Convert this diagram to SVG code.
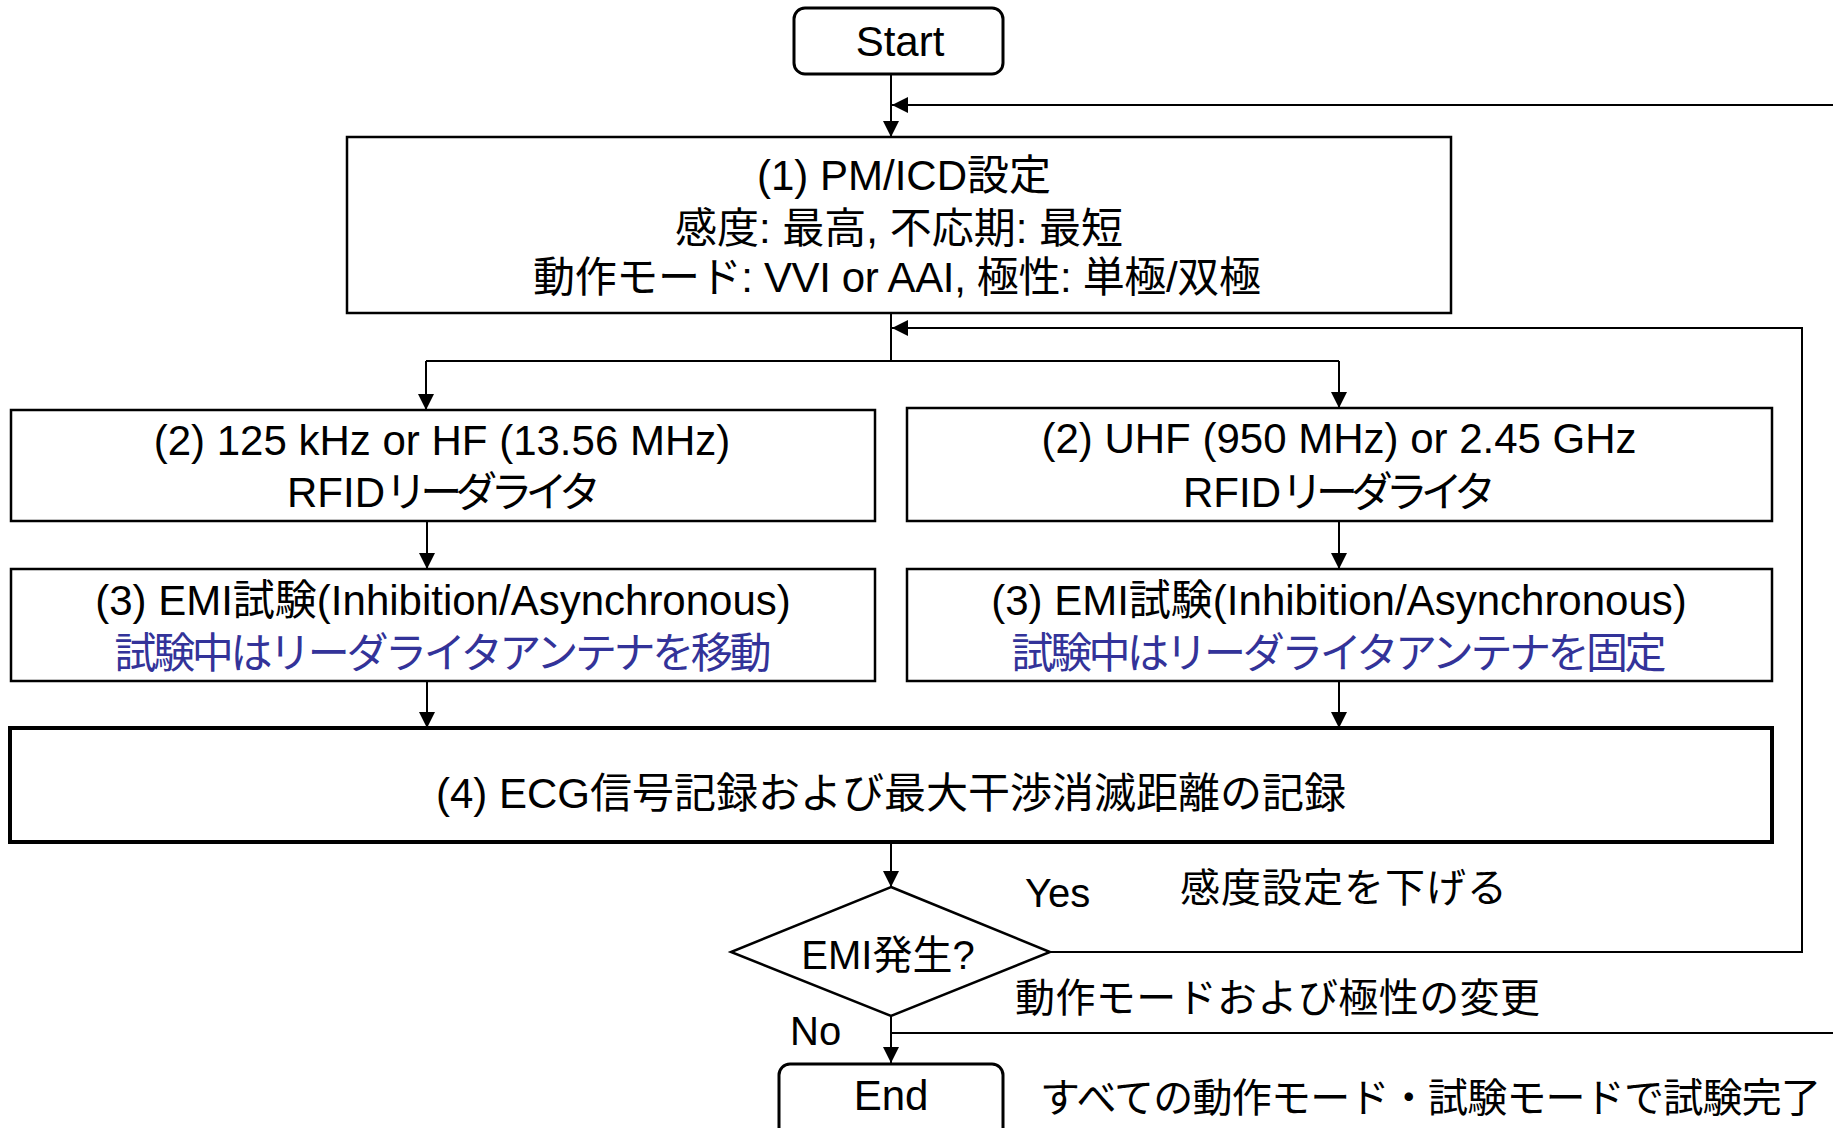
<svg xmlns="http://www.w3.org/2000/svg" width="1833" height="1128" viewBox="0 0 1833 1128">
<defs>
<style>
text{font-family:"Liberation Sans","Noto Sans CJK JP",sans-serif;fill:#000;}
.t42{font-size:42px;text-anchor:middle;}
.l42{font-size:42px;}
.t40{font-size:40px;}
.c{text-anchor:middle;}
.blue{fill:#333399;}
.box{fill:#fff;stroke:#000;stroke-width:2.5;}
.term{fill:#fff;stroke:#000;stroke-width:3;}
.thick{fill:#fff;stroke:#000;stroke-width:4;}
.ln{fill:none;stroke:#000;stroke-width:2;}
</style>
<marker id="ah" viewBox="0 0 16 16" refX="16" refY="8" markerWidth="16" markerHeight="16" markerUnits="userSpaceOnUse" orient="auto">
<path d="M0,0 L16,8 L0,16 Z" fill="#000"/>
</marker>
</defs>
<rect width="1833" height="1128" fill="#fff"/>
<g id="connectors">
<path class="ln" d="M891,74 V137" marker-end="url(#ah)"/>
<path class="ln" d="M1833,105 H892" marker-end="url(#ah)"/>
<path class="ln" d="M891,313 V361"/>
<path class="ln" d="M426,361 H1339"/>
<path class="ln" d="M426,361 V410" marker-end="url(#ah)"/>
<path class="ln" d="M1339,361 V408" marker-end="url(#ah)"/>
<path class="ln" d="M1050,952 H1802 V328 H892" marker-end="url(#ah)"/>
<path class="ln" d="M427,521 V569" marker-end="url(#ah)"/>
<path class="ln" d="M1339,521 V569" marker-end="url(#ah)"/>
<path class="ln" d="M427,681 V728" marker-end="url(#ah)"/>
<path class="ln" d="M1339,681 V728" marker-end="url(#ah)"/>
<path class="ln" d="M891,842 V887" marker-end="url(#ah)"/>
<path class="ln" d="M891,1016 V1063" marker-end="url(#ah)"/>
<path class="ln" d="M891,1033 H1833"/>
</g>
<g id="start">
<rect class="term" x="794" y="8" width="209" height="66" rx="11"/>
<text class="t42" x="900" y="56" font-size="41">Start</text>
</g>
<g id="step1">
<rect class="box" x="347" y="137" width="1104" height="176"/>
<text class="t42" x="904" y="190">(1) PM/ICD設定</text>
<text class="t42" x="899" y="243">感度: 最高, 不応期: 最短</text>
<text class="t42" x="897" y="292" textLength="728">動作モード: VVI or AAI, 極性: 単極/双極</text>
</g>
<g id="step2-left">
<rect class="box" x="11" y="410" width="864" height="111"/>
<text class="t42" x="442" y="455">(2) 125 kHz or HF (13.56 MHz)</text>
<text class="l42" x="287" y="507">RFID<tspan textLength="216">リーダライタ</tspan></text>
</g>
<g id="step2-right">
<rect class="box" x="907" y="408" width="865" height="113"/>
<text class="t42" x="1339" y="453">(2) UHF (950 MHz) or 2.45 GHz</text>
<text class="l42" x="1183" y="507">RFID<tspan textLength="215">リーダライタ</tspan></text>
</g>
<g id="step3-left">
<rect class="box" x="11" y="569" width="864" height="112"/>
<text class="t42" x="443" y="615">(3) EMI試験(Inhibition/Asynchronous)</text>
<text class="t42 blue" x="443" y="668" textLength="657">試験中はリーダライタアンテナを移動</text>
</g>
<g id="step3-right">
<rect class="box" x="907" y="569" width="865" height="112"/>
<text class="t42" x="1339" y="615">(3) EMI試験(Inhibition/Asynchronous)</text>
<text class="t42 blue" x="1339" y="668" textLength="655">試験中はリーダライタアンテナを固定</text>
</g>
<g id="step4">
<rect class="thick" x="10" y="728" width="1762" height="114"/>
<text class="t42" x="891" y="808">(4) ECG信号記録および最大干渉消滅距離の記録</text>
</g>
<g id="decision">
<path class="box" stroke-width="2" d="M891,887 L1050,952 L891,1016 L731,952 Z"/>
<text class="t40 c" x="888" y="969">EMI発生?</text>
</g>
<g id="end">
<rect class="term" x="779" y="1064" width="224" height="90" rx="11"/>
<text class="t42" x="891" y="1110" font-size="41">End</text>
</g>
<g id="labels">
<text class="t40" x="1025" y="907">Yes</text>
<text class="t40" x="1180" y="902" textLength="327">感度設定を下げる</text>
<text class="t40" x="1015" y="1012" textLength="525">動作モードおよび極性の変更</text>
<text class="t40" x="790" y="1045">No</text>
<text class="t40" x="1040" y="1112" textLength="781">すべての動作モード・試験モードで試験完了</text>
</g>
</svg>
